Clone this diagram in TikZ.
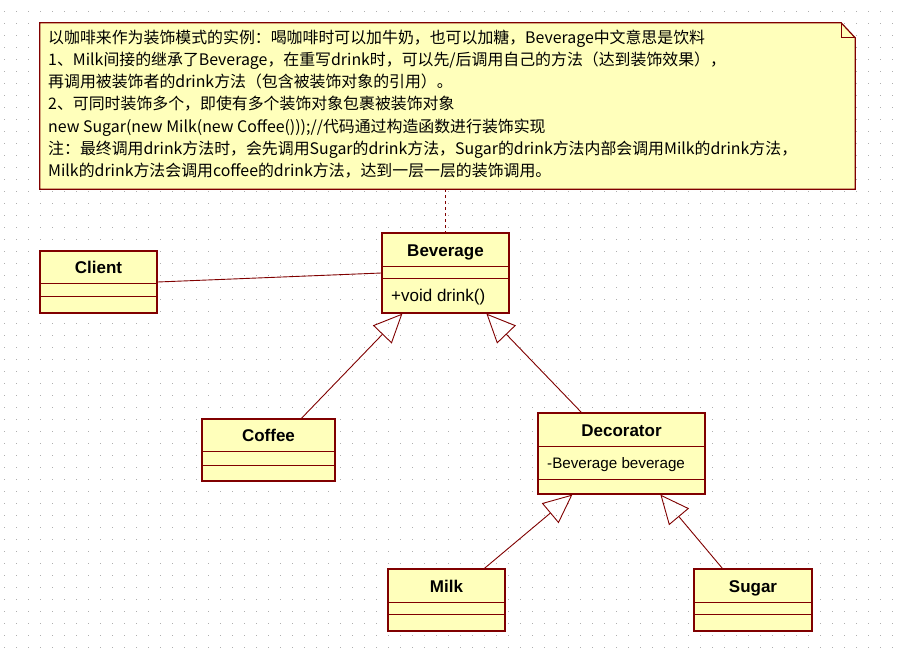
\documentclass[tikz,border=0pt]{standalone}
\usepackage{fontspec}
\setmainfont{Liberation Sans}
\newfontfamily\cjk{Noto Sans CJK SC}
\usetikzlibrary{arrows.meta,calc}
\definecolor{umlred}{RGB}{128,0,0}
\definecolor{umlfill}{RGB}{255,255,187}
\definecolor{griddot}{RGB}{175,175,175}
\begin{document}
\begin{tikzpicture}[x=1pt,y=-1pt,
  cls/.style={draw=umlred,fill=umlfill,line width=1.2pt,rectangle,inner sep=0pt},
  clsname/.style={font=\bfseries\fontsize{17}{20}\selectfont,anchor=base,inner sep=0pt},
  member/.style={font=\fontsize{16}{19}\selectfont,anchor=base west,inner sep=0pt},
  sepline/.style={draw=umlred,line width=1.2pt},
  inherit/.style={draw=umlred,line width=0.9pt,-{Triangle[open,length=29pt,width=26pt]}},
  assoc/.style={draw=umlred,line width=0.9pt},
  notelink/.style={draw=umlred,line width=0.9pt,dash pattern=on 3pt off 3pt},
  notetext/.style={font=\cjk\fontsize{15.9}{19}\selectfont,anchor=base west,inner sep=0pt}]

\useasboundingbox (0,0) rectangle (897,653);
\fill[white] (0,0) rectangle (897,653);
\foreach \gx in {4,16,...,892}{
  \foreach \gy in {11,23,...,647}{
    \fill[griddot] (\gx,\gy) rectangle ++(1,1);
  }
}

% note
\node[minimum width=815, minimum height=166, inner sep=0pt, draw=none] (note) at (447.5,106) {};
\filldraw[fill=umlfill, draw=umlred, line width=1.2pt]
  (note.north west) -- ($(note.north east)+(-14,0)$) -- ($(note.north east)+(0,15)$)
  -- (note.south east) -- (note.south west) -- cycle;
\draw[umlred, line width=1.2pt] ($(note.north east)+(-14,0)$) -- ($(note.north east)+(-14,15)$) -- ($(note.north east)+(0,15)$);

\node[notetext] (nl1) at (48,43) {以咖啡来作为装饰模式的实例：喝咖啡时可以加牛奶，也可以加糖，Beverage中文意思是饮料};
\node[notetext] (nl2) at (48,65.3) {1、Milk间接的继承了Beverage，在重写drink时，可以先/后调用自己的方法（达到装饰效果），};
\node[notetext] (nl3) at (48,87.6) {再调用被装饰者的drink方法（包含被装饰对象的引用）。};
\node[notetext] (nl4) at (48,109.9) {2、可同时装饰多个，即使有多个装饰对象包裹被装饰对象};
\node[notetext] (nl5) at (48,132.2) {new Sugar(new Milk(new Coffee()));//代码通过构造函数进行装饰实现};
\node[notetext] (nl6) at (48,154.5) {注：最终调用drink方法时，会先调用Sugar的drink方法，Sugar的drink方法内部会调用Milk的drink方法，};
\node[notetext] (nl7) at (48,176.8) {Milk的drink方法会调用coffee的drink方法，达到一层一层的装饰调用。};

% classes
\node[cls, minimum width=117, minimum height=62] (client) at (98.5,282) {};
\draw[sepline] ($(client.north west)+(0,33)$) -- ($(client.north east)+(0,33)$);
\draw[sepline] ($(client.north west)+(0,46)$) -- ($(client.north east)+(0,46)$);
\node[clsname] (clientname) at (98.5,273.5) {Client};

\node[cls, minimum width=127, minimum height=80] (bev) at (445.5,273) {};
\draw[sepline] ($(bev.north west)+(0,34)$) -- ($(bev.north east)+(0,34)$);
\draw[sepline] ($(bev.north west)+(0,46)$) -- ($(bev.north east)+(0,46)$);
\node[clsname] (bevname) at (445.5,256) {Beverage};
\node[member, font=\fontsize{17}{19}\selectfont] (bevop) at (391,301) {+void drink()};

\node[cls, minimum width=133, minimum height=62] (coffee) at (268.5,450) {};
\draw[sepline] ($(coffee.north west)+(0,33)$) -- ($(coffee.north east)+(0,33)$);
\draw[sepline] ($(coffee.north west)+(0,47)$) -- ($(coffee.north east)+(0,47)$);
\node[clsname] (coffeename) at (268.5,441.5) {Coffee};

\node[cls, minimum width=167, minimum height=81] (dec) at (621.5,453.5) {};
\draw[sepline] ($(dec.north west)+(0,34)$) -- ($(dec.north east)+(0,34)$);
\draw[sepline] ($(dec.north west)+(0,67)$) -- ($(dec.north east)+(0,67)$);
\node[clsname] (decname) at (621.5,436) {Decorator};
\node[member, font=\fontsize{15.2}{19}\selectfont] (decattr) at (547,468.5) {-Beverage beverage};

\node[cls, minimum width=117, minimum height=62] (milk) at (446.5,600) {};
\draw[sepline] ($(milk.north west)+(0,34)$) -- ($(milk.north east)+(0,34)$);
\draw[sepline] ($(milk.north west)+(0,46)$) -- ($(milk.north east)+(0,46)$);
\node[clsname] (milkname) at (446.5,592) {Milk};

\node[cls, minimum width=118, minimum height=62] (sugar) at (753,600) {};
\draw[sepline] ($(sugar.north west)+(0,34)$) -- ($(sugar.north east)+(0,34)$);
\draw[sepline] ($(sugar.north west)+(0,46)$) -- ($(sugar.north east)+(0,46)$);
\node[clsname] (sugarname) at (753,592) {Sugar};

% connectors
\draw[notelink] (note.south -| bev.north) -- (bev.north);
\draw[assoc] (client.east) -- (bev.west);
\draw[inherit] ($(coffee.north west)+(100,0)$) -- ($(bev.south west)+(21,0)$);
\draw[inherit] ($(dec.north west)+(44,0)$) -- ($(bev.south west)+(105,0)$);
\draw[inherit] ($(milk.north west)+(97,0)$) -- ($(dec.south west)+(35,0)$);
\draw[inherit] ($(sugar.north west)+(29,0)$) -- ($(dec.south west)+(123,0)$);
\end{tikzpicture}
\end{document}
